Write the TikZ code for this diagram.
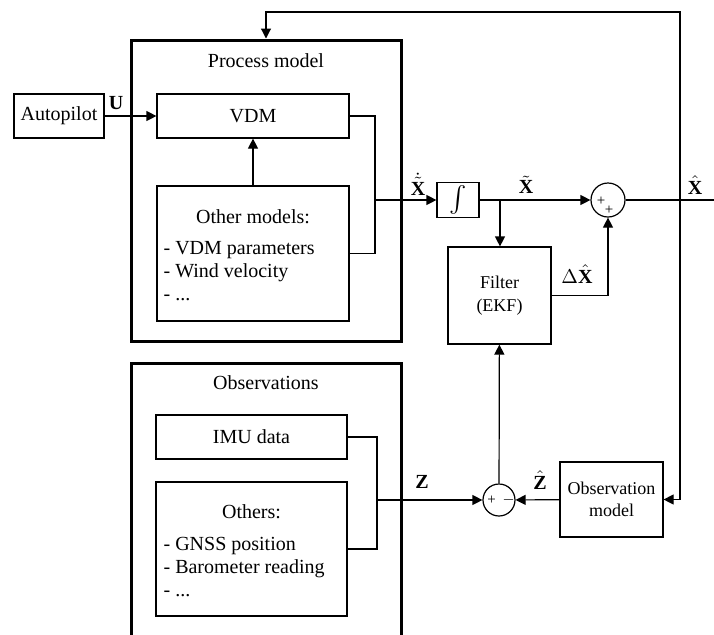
\documentclass[tikz,border=0pt]{standalone}
\usepackage{fontspec}
\setmainfont{Liberation Serif}
\usetikzlibrary{arrows.meta,positioning,calc}

\begin{document}
\begin{tikzpicture}[x=0.5pt,y=-0.5pt,line width=0.6pt,
  >={Triangle[length=5pt,width=5pt]},
  block/.style={draw,line width=0.6pt,inner sep=0pt,align=center,
    font=\fontsize{10}{11.5}\selectfont},
  smallblock/.style={block,font=\fontsize{9}{11}\selectfont},
  bigbox/.style={draw,line width=1.5pt,inner sep=0pt},
  listtext/.style={align=left,anchor=west,inner sep=0pt,
    font=\fontsize{10}{11.5}\selectfont},
  sumnode/.style={draw,circle,line width=0.6pt,inner sep=0pt},
  sign/.style={inner sep=0pt,font=\fontsize{7.5}{8}\selectfont}]

  \useasboundingbox (0,0) rectangle (714,634);

  % Process model
  \node[bigbox,minimum width=135pt,minimum height=150.5pt] (pm) at (266,190.5) {};
  \node (pmtitle) at (266,61) {Process model};
  \node[block,minimum width=45pt,minimum height=22pt] (autopilot) at (59,116) {Autopilot};
  \node[block,minimum width=96pt,minimum height=22pt] (vdm) at (253,116) {VDM};
  \node[block,minimum width=96pt,minimum height=67.5pt] (other) at (253,253.5) {};
  \node (othertitle) at (253,217) {Other models:};
  \node[listtext] (otherlist) at (163,271)
    {- VDM parameters\\- Wind velocity\\- ...};

  % Observations
  \draw[line width=1.5pt] (131,645) -- (131,363) -- (401,363) -- (401,645);
  \node (obstitle) at (266,383) {Observations};
  \node[block,minimum width=95.5pt,minimum height=22pt] (imu) at (251.5,437) {IMU data};
  \node[block,minimum width=95.5pt,minimum height=67pt] (others) at (251.5,549) {};
  \node (otherstitle) at (251.5,512) {Others:};
  \node[listtext] (otherslist) at (163,567)
    {- GNSS position\\- Barometer reading\\- ...};

  % Estimation loop
  \node[block,minimum width=21pt,minimum height=17.5pt] (integ) at (458,200)
    {\scalebox{1.3}{$\int$}};
  \node[sumnode,minimum size=17pt] (sum1) at (608,200) {};
  \node[sign] (sum1a) at (601,201) {+};
  \node[sign] (sum1b) at (609,210) {+};
  \node[smallblock,minimum width=51.5pt,minimum height=48.5pt] (filter) at (499.5,295.5)
    {Filter\\[0.5pt](EKF)};
  \node[sumnode,minimum size=16pt] (sum2) at (499,500) {};
  \node[sign] (sum2a) at (491.5,500) {+};
  \node[sign] (sum2b) at (508.5,500) {$-$};
  \node[smallblock,minimum width=51.5pt,minimum height=37.5pt] (obsmodel) at (611.5,499.5)
    {Observation\\model};

  \coordinate (j1) at (375,200);
  \coordinate (j2) at (500,200);
  \coordinate (j3) at (680,200);
  \coordinate (j4) at (377,500);
  \coordinate (fb) at (680,12);
  \coordinate (xout) at (724,200);

  \draw[->] (autopilot) -- (vdm);
  \draw[->] (other) -- (vdm);
  \draw (vdm.east) -| (j1) |- (other.east);
  \draw[->] (j1) -- (integ);
  \draw[->] (integ) -- (sum1);
  \draw[->] (j2) -- (j2 |- filter.north);
  \draw[->] (filter.east) -| (sum1.south);
  \draw[->] (sum1) -- (xout);
  \draw[->] (j3) -- (fb) -| (pm.north);
  \draw[->] (j3) |- (obsmodel.east);
  \draw (imu.east) -| (j4) |- (others.east);
  \draw[->] (j4) -- (sum2);
  \draw[->] (sum2) -- (filter);
  \draw[->] (obsmodel) -- (sum2);

  % signal labels
  \node (ulab) at (116,103) {$\mathbf{U}$};
  \node (xdotlab) at (418,184) {$\dot{\tilde{\mathbf{X}}}$};
  \node (xtillab) at (526,185) {$\tilde{\mathbf{X}}$};
  \node (dxlab) at (577,274) {$\Delta\hat{\mathbf{X}}$};
  \node (xhatlab) at (695,185) {$\hat{\mathbf{X}}$};
  \node (zlab) at (422,482) {$\mathbf{Z}$};
  \node (zhatlab) at (540,480) {$\hat{\mathbf{Z}}$};

\end{tikzpicture}
\end{document}
